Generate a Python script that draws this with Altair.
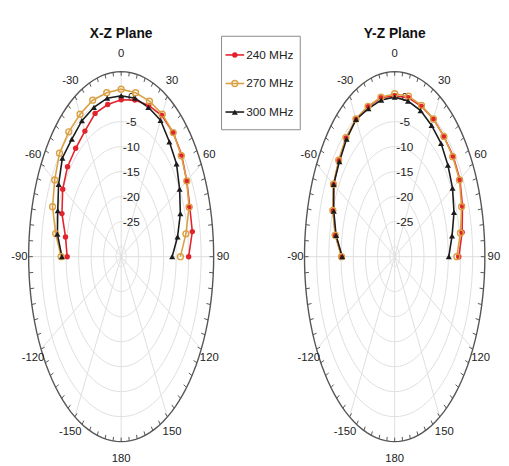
import altair as alt
import pandas as pd
import numpy as np

# ---------------- data (gain in dB) ----------------
angles = list(range(-90, 91, 10))
freqs = ["240 MHz", "270 MHz", "300 MHz"]
planes = ["X-Z Plane", "Y-Z Plane"]

xz_240 = [-10.4, -9.4, -6.8, -5.0, -4.0, -3.7, -3.0, -1.5, -1.1, -0.6,
          -0.2, 0.2, 0.6, 0.4, -0.4, -1.7, -2.8, -3.1, -5.0]
xz_270 = [-8.0, -5.4, -2.8, -1.3, 0.2, 0.6, 0.9, 1.3, 1.3, 1.5,
          1.3, 1.1, 0.9, 0.4, -0.6, -1.7, -3.1, -5.7, -8.3]
xz_300 = [-8.3, -6.1, -5.0, -3.1, -1.3, -1.3, -0.6, -0.2, 0.2, 0.2,
          0.2, -0.2, -0.5, -2.0, -3.1, -5.0, -6.8, -9.1, -11.6]

yz_240 = [-10.3, -7.3, -5.1, -3.1, -2.1, -1.0, -0.3, -0.1, 0.3, 0.2,
          0.3, 0.0, -0.2, -0.6, -0.7, -1.1, -2.4, -3.9, -5.7]
yz_270 = [-10.2, -7.2, -5.0, -3.0, -2.0, -0.9, -0.2, 0.0, 0.4, 0.6,
          0.6, 0.2, -0.2, -0.6, -0.9, -1.3, -2.8, -4.6, -6.5]
yz_300 = [-10.5, -7.6, -5.4, -3.1, -2.4, -1.3, -0.3, -0.5, -0.2, -0.1,
          -0.4, -0.9, -1.7, -2.4, -3.5, -4.6, -6.1, -8.1, -9.8]

series = {
    ("X-Z Plane", "240 MHz"): xz_240,
    ("X-Z Plane", "270 MHz"): xz_270,
    ("X-Z Plane", "300 MHz"): xz_300,
    ("Y-Z Plane", "240 MHz"): yz_240,
    ("Y-Z Plane", "270 MHz"): yz_270,
    ("Y-Z Plane", "300 MHz"): yz_300,
}

R_MIN, R_MAX = -32, 5
ring_levels = [-30, -25, -20, -15, -10, -5, 0]
rtick_labels = [0, -5, -10, -15, -20, -25]
theta_ticks = [0, 30, 60, 90, 120, 150, 180, -150, -120, -90, -60, -30]
colors = ["#e3232c", "#dba043", "#1c1c1c"]

# ---------------- layout constants ----------------
W, H = 501, 458
PX_X, PX_Y = 94.0, 188.0            # pixels per unit radius
CX0, CY0 = 115.0, 249.0             # left panel centre (relative to plot origin)
XMIN = -CX0 / PX_X
XMAX = XMIN + W / PX_X
YMAX = CY0 / PX_Y
YMIN = YMAX - H / PX_Y
offsets = {"X-Z Plane": 0.0, "Y-Z Plane": 2.957}
kxs = {"X-Z Plane": 1.0, "Y-Z Plane": 0.975}

FONT = "Liberation Sans Narrow, Liberation Sans, Arial, sans-serif"

xs = alt.Scale(domain=[XMIN, XMAX], nice=False, zero=False)
ys = alt.Scale(domain=[YMIN, YMAX], nice=False, zero=False)
X = lambda f: alt.X(f, type="quantitative", scale=xs, axis=None)
Y = lambda f: alt.Y(f, type="quantitative", scale=ys, axis=None)

# ---------------- tables ----------------
rows = []
for (pl, fr), vals in series.items():
    for a, g in zip(angles, vals):
        rows.append({"plane": pl, "freq": fr, "angle": a, "gain": g,
                     "off": offsets[pl], "kx": kxs[pl]})
df = pd.DataFrame(rows)

ring_rows = []
samp = np.arange(0, 361, 3)
for pl in planes:
    for lv in ring_levels + [R_MAX]:
        for s in samp:
            ring_rows.append({"plane": pl, "lvl": lv, "s": float(s), "off": offsets[pl],
                              "kx": kxs[pl], "outer": lv == R_MAX})
rings = pd.DataFrame(ring_rows)

spokes = pd.DataFrame([{"plane": pl, "a": a, "off": offsets[pl], "kx": kxs[pl]}
                       for pl in planes for a in range(0, 360, 30)])
ticks = pd.DataFrame([{"plane": pl, "a": a, "off": offsets[pl], "kx": kxs[pl]}
                      for pl in planes for a in range(0, 360, 5)])
tlabels = pd.DataFrame([{"plane": pl, "a": a, "lab": str(a), "off": offsets[pl], "kx": kxs[pl]}
                        for pl in planes for a in theta_ticks])
rlabels = pd.DataFrame([{"plane": pl, "v": v, "lab": str(v), "off": offsets[pl], "kx": kxs[pl]}
                        for pl in planes for v in rtick_labels])
titles = pd.DataFrame({"plane": planes, "off": [offsets[p] for p in planes]})

RN = f"(datum.lvl - ({R_MIN})) / ({R_MAX - R_MIN})"
SIN = lambda a: f"datum.kx * sin({a} * PI / 180)"
COS = lambda a: f"cos({a} * PI / 180)"

# ---------------- grid ----------------
ring_layer = alt.Chart(rings).transform_filter("!datum.outer").transform_calculate(
    px=f"datum.off + ({RN}) * {SIN('datum.s')}",
    py=f"({RN}) * {COS('datum.s')}",
    key="datum.plane + '_' + datum.lvl",
).mark_line(color="#dedede", strokeWidth=1).encode(
    x=X("px"), y=Y("py"), detail="key:N", order="s:Q")

outer_layer = alt.Chart(rings).transform_filter("datum.outer").transform_calculate(
    px=f"datum.off + {SIN('datum.s')}",
    py=COS("datum.s"),
).mark_line(color="#555555", strokeWidth=1.4).encode(
    x=X("px"), y=Y("py"), detail="plane:N", order="s:Q")

spoke_layer = alt.Chart(spokes).transform_calculate(
    px="datum.off", py="0",
    px2=f"datum.off + {SIN('datum.a')}",
    py2=COS("datum.a"),
).mark_rule(color="#dedede", strokeWidth=1).encode(
    x=X("px"), y=Y("py"), x2="px2:Q", y2="py2:Q")

tick_layer = alt.Chart(ticks).transform_calculate(
    px=f"datum.off + {SIN('datum.a')}",
    py=COS("datum.a"),
    px2=f"datum.off + 0.955 * {SIN('datum.a')}",
    py2=f"0.978 * {COS('datum.a')}",
).mark_rule(color="#555555", strokeWidth=1).encode(
    x=X("px"), y=Y("py"), x2="px2:Q", y2="py2:Q")

tlabel_layer = alt.Chart(tlabels).transform_calculate(
    px=f"datum.off + 1.10 * {SIN('datum.a')}",
    py=f"1.095 * {COS('datum.a')}",
).mark_text(font=FONT, fontSize=11.5, color="#222222").encode(
    x=X("px"), y=Y("py"), text="lab:N")

rlabel_layer = alt.Chart(rlabels).transform_calculate(
    px="datum.off + 0.11",
    py=f"(datum.v - ({R_MIN})) / ({R_MAX - R_MIN})",
).mark_text(font=FONT, fontSize=12, color="#222222").encode(
    x=X("px"), y=Y("py"), text="lab:N")

title_layer = alt.Chart(titles).transform_calculate(
    px="datum.off", py="1.205",
).mark_text(font=FONT, fontSize=14, fontWeight="bold", color="#111111").encode(
    x=X("px"), y=Y("py"), text="plane:N")

# ---------------- data ----------------
GRN = f"(datum.gain - ({R_MIN})) / ({R_MAX - R_MIN})"
base = alt.Chart(df).transform_calculate(
    px=f"datum.off + ({GRN}) * {SIN('datum.angle')}",
    py=f"({GRN}) * {COS('datum.angle')}",
    key="datum.plane + '_' + datum.freq",
)
cscale = alt.Scale(domain=freqs, range=colors)

line_layer = base.mark_line(strokeWidth=1.6).encode(
    x=X("px"), y=Y("py"), color=alt.Color("freq:N", scale=cscale, legend=None),
    detail="key:N", order="angle:Q")

markers = [dict(shape="circle", filled=True, size=30),
           dict(shape="circle", filled=False, size=36, strokeWidth=1.4),
           dict(shape="triangle-up", filled=True, size=38)]
pts = [base.transform_filter(f"datum.freq == '{f}'").mark_point(
           color=colors[i], opacity=1, **markers[i]).encode(x=X("px"), y=Y("py"))
       for i, f in enumerate(freqs)]

# ---------------- legend ----------------
one = pd.DataFrame({"a": [0]})
leg = [alt.Chart(one).mark_rect(fill="white", stroke="#8a8a8a", strokeWidth=1).encode(
    x=alt.value(217), x2=alt.value(297), y=alt.value(25), y2=alt.value(120))]
for i, f in enumerate(freqs):
    yy = 44 + 29 * i
    leg.append(alt.Chart(one).mark_rule(color=colors[i], strokeWidth=1.6).encode(
        x=alt.value(221), x2=alt.value(240), y=alt.value(yy)))
    leg.append(alt.Chart(one).mark_point(color=colors[i], opacity=1, **markers[i]).encode(
        x=alt.value(230.5), y=alt.value(yy)))
    leg.append(alt.Chart(one).mark_text(text=f, font=FONT, fontSize=12, align="left",
                                        color="#222222").encode(
        x=alt.value(242), y=alt.value(yy)))

chart = alt.layer(
    ring_layer, spoke_layer, outer_layer, tick_layer, rlabel_layer, tlabel_layer, title_layer,
    line_layer, *pts, *leg
).properties(
    width=W, height=H, padding=0,
    autosize=alt.AutoSizeParams(type="none"), background="white"
).configure_view(stroke=None)

chart.save("out.html", embed_options={"renderer": "svg", "actions": False})
